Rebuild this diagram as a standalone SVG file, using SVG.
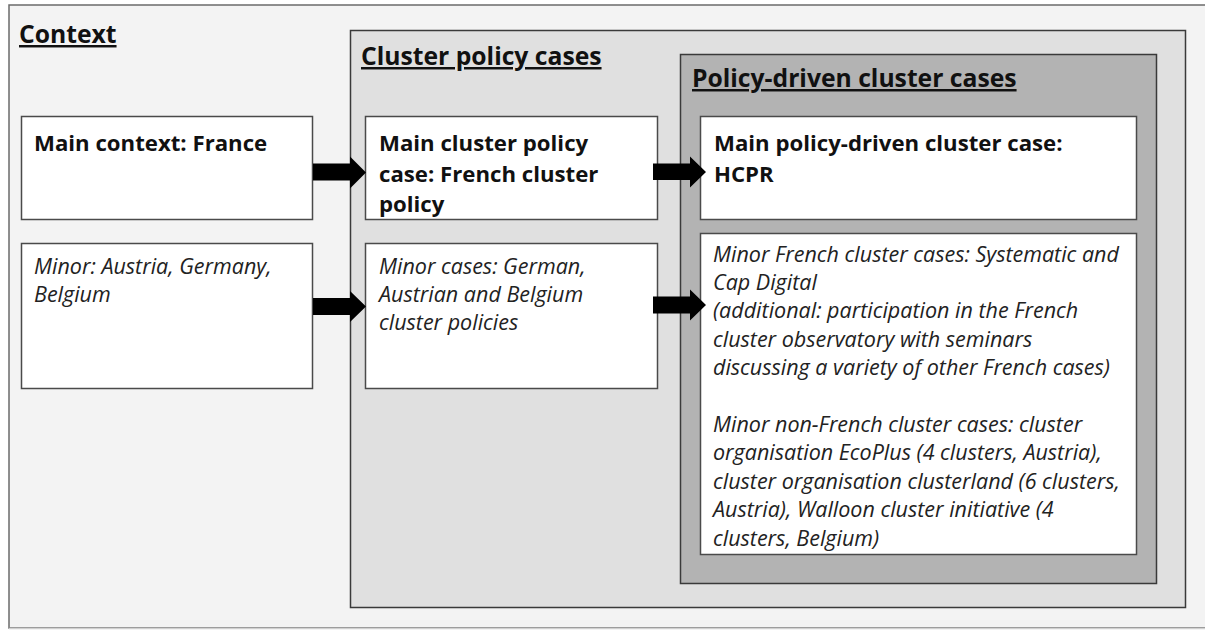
<svg xmlns="http://www.w3.org/2000/svg" width="1205" height="630" viewBox="0 0 1205 630">
<style>
.bg{fill:#ffffff}
.ctx{fill:#f3f3f3;stroke:#6b6b6b;stroke-width:1.5}
.clu{fill:#e0e0e0;stroke:#3a3a3a;stroke-width:1.5}
.pol{fill:#b3b3b3;stroke:#3a3a3a;stroke-width:1.5}
.box{fill:#ffffff;stroke:#4a4a4a;stroke-width:1.5}
.h{font-family:"Open Sans","Liberation Sans",sans-serif;font-weight:bold;font-size:24.7px;fill:#111;text-decoration:underline}
.b{font-family:"Open Sans","Liberation Sans",sans-serif;font-weight:bold;font-size:22.2px;fill:#111}
.i{font-family:"Open Sans","Liberation Sans",sans-serif;font-style:italic;font-size:21.5px;fill:#222}
.arr{fill:#000}
</style>
<rect class="bg" x="0" y="0" width="1205" height="630"/>
<g id="context">
<rect class="ctx" x="9" y="5" width="1210" height="623"/>
<line x1="9" y1="628.5" x2="1205" y2="628.5" stroke="#d0d0d0" stroke-width="1.5"/>
<text class="h" x="19" y="43">Context</text>
</g>
<g id="cluster-policy-cases">
<rect class="clu" x="350.5" y="30.5" width="835" height="577"/>
<text class="h" x="361" y="65">Cluster policy cases</text>
</g>
<g id="policy-driven-cluster-cases">
<rect class="pol" x="680.5" y="54.5" width="476" height="529"/>
<text class="h" x="692" y="87">Policy-driven cluster cases</text>
</g>
<g id="main-context">
<rect class="box" x="21.5" y="116.5" width="291" height="103"/>
<text class="b" x="34" y="151">Main context: France</text>
</g>
<g id="minor-context">
<rect class="box" x="21.5" y="243.5" width="291" height="145"/>
<text class="i" x="34" y="273.5">Minor: Austria, Germany,</text>
<text class="i" x="34" y="301.8">Belgium</text>
</g>
<g id="main-cluster-policy">
<rect class="box" x="365.5" y="116.5" width="292" height="103"/>
<text class="b" x="379" y="150.5">Main cluster policy</text>
<text class="b" x="379" y="181.5">case: French cluster</text>
<text class="b" x="379" y="212">policy</text>
</g>
<g id="minor-cluster-policy">
<rect class="box" x="365.5" y="243.5" width="292" height="145"/>
<text class="i" x="379" y="273.5">Minor cases: German,</text>
<text class="i" x="379" y="301.8">Austrian and Belgium</text>
<text class="i" x="379" y="330.1">cluster policies</text>
</g>
<g id="main-policy-driven">
<rect class="box" x="700.5" y="116.5" width="436" height="103"/>
<text class="b" x="714" y="150.5">Main policy-driven cluster case:</text>
<text class="b" x="714" y="181.5">HCPR</text>
</g>
<g id="minor-policy-driven">
<rect class="box" x="700.5" y="233.5" width="436" height="321"/>
<text class="i" x="713" y="261.5">Minor French cluster cases: Systematic and</text>
<text class="i" x="713" y="289.9">Cap Digital</text>
<text class="i" x="713" y="318.3">(additional: participation in the French</text>
<text class="i" x="713" y="346.7">cluster observatory with seminars</text>
<text class="i" x="713" y="375.1">discussing a variety of other French cases)</text>
<text class="i" x="713" y="431.9">Minor non-French cluster cases: cluster</text>
<text class="i" x="713" y="460.3">organisation EcoPlus (4 clusters, Austria),</text>
<text class="i" x="713" y="488.7">cluster organisation clusterland (6 clusters,</text>
<text class="i" x="713" y="517.1">Austria), Walloon cluster initiative (4</text>
<text class="i" x="713" y="545.5">clusters, Belgium)</text>
</g>
<g id="connectors">
<polygon class="arr" points="313,163.5 350,163.5 350,156.5 366,172.5 350,188.5 350,180.5 313,180.5"/>
<polygon class="arr" points="653,163.5 690,163.5 690,156.5 706,172 690,187.5 690,180 653,180"/>
<polygon class="arr" points="313,298 350,298 350,291 366,306.5 350,322 350,315 313,315"/>
<polygon class="arr" points="653,296.5 690,296.5 690,289.5 706,305 690,320.5 690,313.5 653,313.5"/>
</g>
</svg>
